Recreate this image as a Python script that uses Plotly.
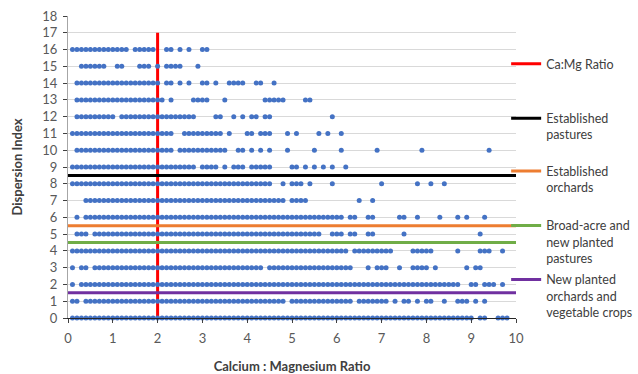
import plotly.graph_objects as go

# ---- data ----
# Each dot row: one character per 0.1 step of the Ca:Mg ratio (0.0 .. 10.0), '#' = a sample.
# Groups of ten characters (0.0-0.9, 1.0-1.9, ...) are separated by spaces.
row_16 = ".######### ####.##### ..##.#.#.. ##........ .......... .......... .......... .......... .......... .......... ."
row_15 = "...######. .##...###. #.####...# .......... .......... .......... .......... .......... .......... .......... ."
row_14 = "..######## ########## #.##.#.#.. ##.#..#### ..##..#... .......... .......... .......... .......... .......... ."
row_13 = "..######## ########## ##.#....## ##...#.... ....#####. ...##..... .......... .......... .......... .......... ."
row_12 = "..######## #.######## #########. ...##..#.# .##.##.... .........# .......... .......... .......... .......... ."
row_11 = ".######### ########## ####..#### #####.#... ##.###...# .#....#.#. .#........ .......... .......... .......... ."
row_10 = "..######## ########## ####.##### ######..## .#.#.#...# .....#.... .#.......# .........# .......... ....#..... ."
row_9 = ".######### ########## #########. ####.#.### .#####.... ##.#.#.#.# ..#....... .......... .......... .......... ."
row_8 = ".######### ########## ########## ########## ######..#. ###.#....# .......... #.......#. .#..#..... .......... ."
row_7 = "....###### ########## ########## ########## #########. ####...... .....#..#. .......... .......... .......... ."
row_6 = "..#.###### ########## ########## ########## ########## ########## ##.##..##. ....##..#. ...#...#.# ...#...... ."
row_5 = "..###.#### ########## ########## ########## ########## #######..# ##.##..##. .....#.... .......... ..#....... ."
row_4 = ".######### ########## ########## ########## ########## ########## ###.###### ###....### ##.....#.. ..###..#.. ."
row_3 = ".#.##.#### ########## ########## ########## ####.##### ########## ####...#.# ##..#..### #.#......# .##....... ."
row_2 = ".#.####### ########## ########## ########## ########## ########## ########## ########## ########.. ##.###.#.. ."
row_1 = ".##.###### ########## ########## ########## #########. ########## ####.##### ##.#.##.#. ##..#..### .#.#...... ."
row_0 = ".######### ########## ########## ########## ########## ########## ########## ########## ########## #.##..###. ."

dispersion_rows = [row_0, row_1, row_2, row_3, row_4, row_5, row_6, row_7, row_8,
                   row_9, row_10, row_11, row_12, row_13, row_14, row_15, row_16]

# Guideline series
ratio_guide_name = "Ca:Mg Ratio"
ratio_guide_x = [2, 2]
ratio_guide_y = [0, 17]

threshold_names = [
    "Established<br>pastures",
    "Established<br>orchards",
    "Broad-acre and<br>new planted<br>pastures",
    "New planted<br>orchards and<br>vegetable crops",
]
threshold_values = [8.5, 5.5, 4.5, 1.5]
threshold_x = [0, 10]

x_ticks = list(range(0, 11))
y_ticks = list(range(0, 19))

# ---- styling ----
FONT = "Lato, 'Open Sans', sans-serif"
DOT_COLOR = "#4472C4"
threshold_colors = ["#000000", "#ED7D31", "#70AD47", "#7030A0"]
legend_y = [0.634, 0.459, 0.252, 0.073]

# expand masks to point lists
dot_x, dot_y = [], []
for level, mask in enumerate(dispersion_rows):
    cells = mask.replace(" ", "")
    for k, ch in enumerate(cells):
        if ch == "#":
            dot_x.append(k / 10)
            dot_y.append(level)

fig = go.Figure()

fig.add_trace(go.Scatter(
    x=ratio_guide_x, y=ratio_guide_y, mode="lines", name=ratio_guide_name,
    line=dict(color="#FF0000", width=3), legend="legend", cliponaxis=False,
))

legend_keys = ["legend2", "legend3", "legend4", "legend5"]
for name, val, col, lk in zip(threshold_names, threshold_values, threshold_colors, legend_keys):
    fig.add_trace(go.Scatter(
        x=threshold_x, y=[val, val], mode="lines", name=name,
        line=dict(color=col, width=3), legend=lk,
    ))

fig.add_trace(go.Scatter(
    x=dot_x, y=dot_y, mode="markers", showlegend=False,
    marker=dict(color=DOT_COLOR, size=5, line=dict(width=0)),
    cliponaxis=False,
))

legend_common = dict(
    x=0.978, xanchor="left", yanchor="middle",
    bgcolor="rgba(0,0,0,0)", borderwidth=0,
    font=dict(family=FONT, size=12.5, color="#404040"),
    itemwidth=30, valign="top", tracegroupgap=0,
)

layout_legends = {"legend": dict(y=0.841, **legend_common)}
for lk, ly in zip(legend_keys, legend_y):
    layout_legends[lk] = dict(y=ly, **legend_common)

fig.update_layout(
    width=638, height=374,
    margin=dict(l=68, r=122, t=16, b=56, autoexpand=False),
    paper_bgcolor="white", plot_bgcolor="white",
    font=dict(family=FONT, size=12, color="#595959"),
    showlegend=True,
    hovermode=False,
    **layout_legends,
)

fig.update_xaxes(
    range=[0, 10], tickvals=x_ticks, showgrid=False, zeroline=False,
    showline=True, linecolor="#262626", linewidth=1,
    ticks="outside", ticklen=4, tickcolor="#404040",
    tickfont=dict(family=FONT, size=13, color="#595959"),
    ticklabelstandoff=4, automargin=False,
    title=dict(text="<b>Calcium : Magnesium Ratio</b>", standoff=21,
               font=dict(family=FONT, size=13, color="#404040")),
)
fig.update_yaxes(
    range=[0, 18], tickvals=y_ticks, showgrid=True, gridcolor="#D9D9D9", gridwidth=1,
    zeroline=False, showline=True, linecolor="#A6A6A6", linewidth=1,
    ticks="outside", ticklen=4, tickcolor="#404040",
    tickfont=dict(family=FONT, size=13, color="#595959"),
    ticklabelstandoff=3, automargin=False,
    title=dict(text="<b>Dispersion Index</b>", standoff=16,
               font=dict(family=FONT, size=13, color="#404040")),
)

# remove the browser's default 8px page margin so the 638x374 figure fills the window
fig.write_html("out.html", config={"displayModeBar": False},
               post_script="document.body.style.margin='0';")
